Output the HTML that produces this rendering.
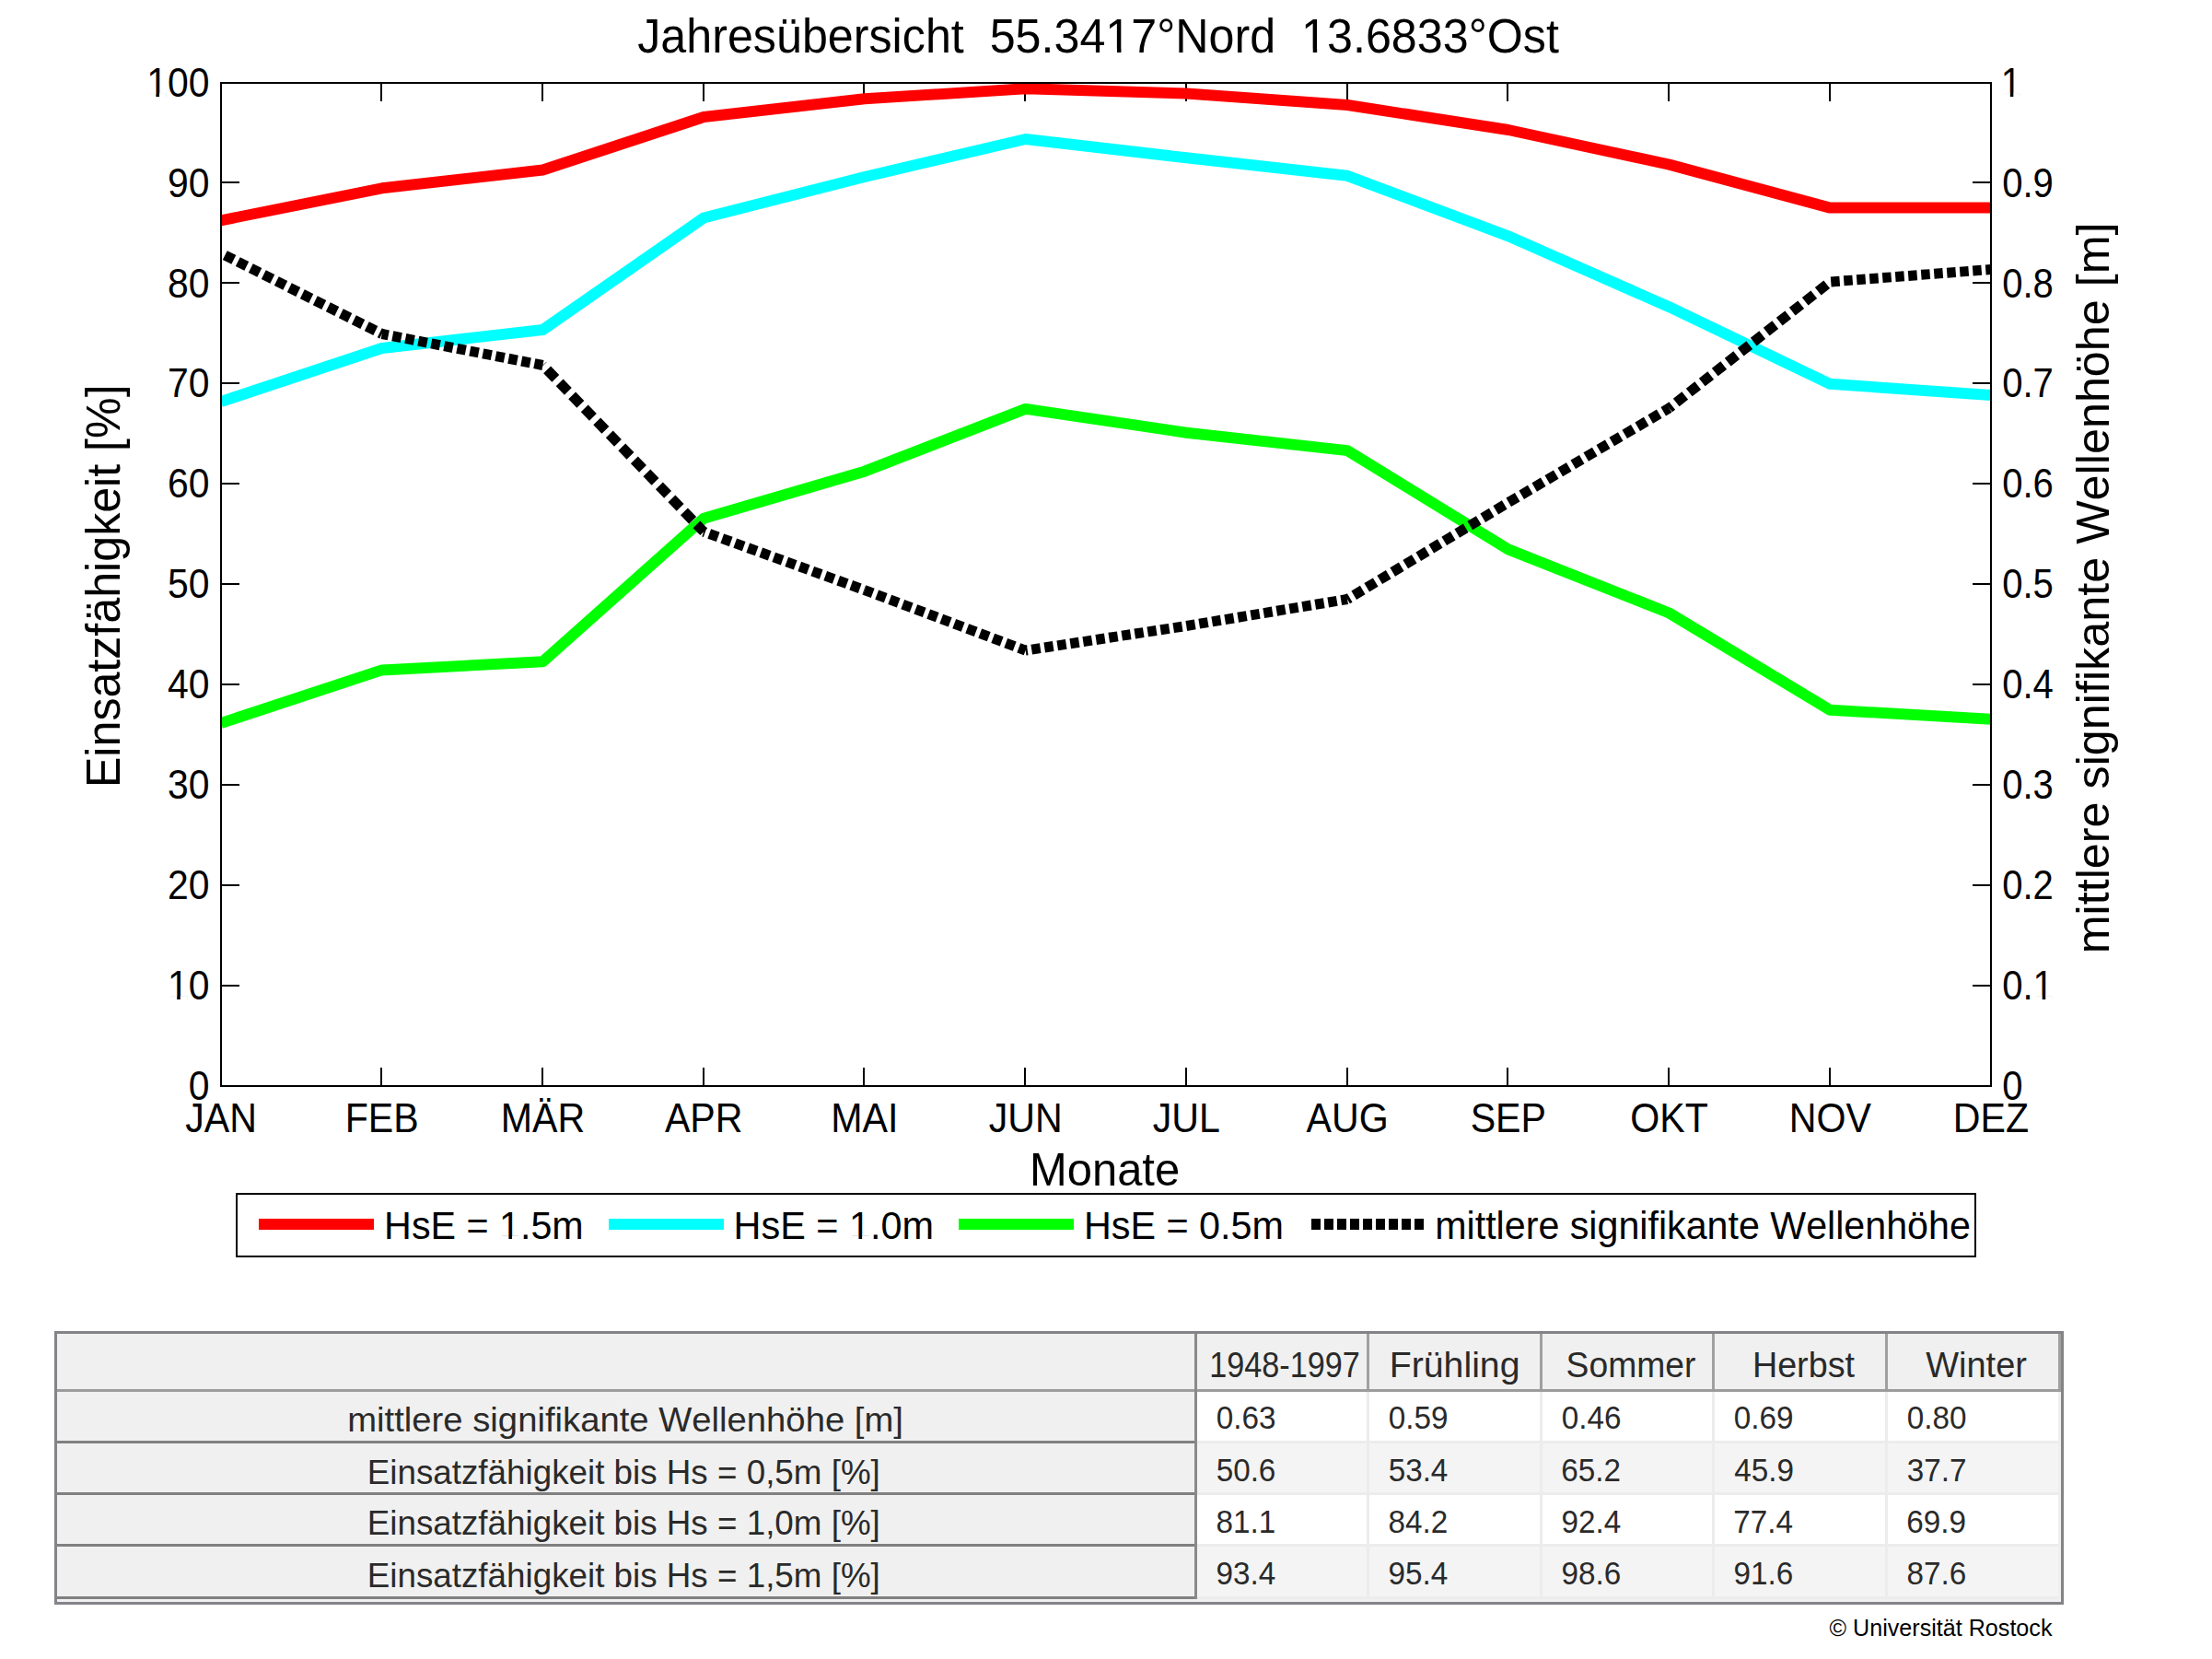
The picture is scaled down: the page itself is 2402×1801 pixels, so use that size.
<!DOCTYPE html>
<html><head><meta charset="utf-8"><title>Jahresübersicht</title>
<style>
html,body{margin:0;padding:0;background:#fff;}
body{width:2402px;height:1801px;position:relative;overflow:hidden;font-family:"Liberation Sans", sans-serif;font-kerning:none;}
svg text{font-kerning:none;}
</style></head><body>
<svg width="2402" height="1440" viewBox="0 0 2402 1440" style="position:absolute;left:0;top:0" font-family='"Liberation Sans", sans-serif'><defs><clipPath id="pc"><rect x="240" y="89" width="1922" height="1091"/></clipPath></defs><path d="M240,1070h20M2162,1070h-20M240,961h20M2162,961h-20M240,852h20M2162,852h-20M240,743h20M2162,743h-20M240,634h20M2162,634h-20M240,525h20M2162,525h-20M240,416h20M2162,416h-20M240,307h20M2162,307h-20M240,198h20M2162,198h-20M414,90v20M414,1179v-20M589,90v20M589,1179v-20M764,90v20M764,1179v-20M938,90v20M938,1179v-20M1113,90v20M1113,1179v-20M1288,90v20M1288,1179v-20M1463,90v20M1463,1179v-20M1637,90v20M1637,1179v-20M1812,90v20M1812,1179v-20M1987,90v20M1987,1179v-20" stroke="#000" stroke-width="2" fill="none"/><g clip-path="url(#pc)" fill="none" stroke-linejoin="round"><polyline points="240.00,239.30 414.73,204.30 589.45,184.50 764.18,127.00 938.91,107.30 1113.64,96.30 1288.36,101.50 1463.09,114.00 1637.82,141.00 1812.55,178.60 1987.27,225.60 2162.00,225.60" stroke="#ff0000" stroke-width="12"/><polyline points="240.00,436.00 414.73,378.00 589.45,358.00 764.18,236.50 938.91,192.00 1113.64,151.00 1288.36,171.30 1463.09,190.80 1637.82,256.30 1812.55,333.20 1987.27,416.80 2162.00,429.00" stroke="#00ffff" stroke-width="12"/><polyline points="240.00,785.00 414.73,727.40 589.45,718.30 764.18,562.80 938.91,511.70 1113.64,443.90 1288.36,469.70 1463.09,489.10 1637.82,596.30 1812.55,665.50 1987.27,770.80 2162.00,780.70" stroke="#00ff00" stroke-width="12"/><path d="M240.00,275.00L414.73,362.50" stroke="#000" stroke-width="11" stroke-dasharray="10.625 5.033" stroke-dashoffset="10.848"/><path d="M414.73,362.50L589.45,396.50" stroke="#000" stroke-width="11" stroke-dasharray="9.678 4.584" stroke-dashoffset="2.473"/><path d="M589.45,396.50L764.18,577.30" stroke="#000" stroke-width="11" stroke-dasharray="13.211 6.258" stroke-dashoffset="12.731"/><path d="M764.18,577.30L938.91,640.60" stroke="#000" stroke-width="11" stroke-dasharray="10.104 4.786" stroke-dashoffset="8.460"/><path d="M938.91,640.60L1113.64,706.10" stroke="#000" stroke-width="11" stroke-dasharray="10.146 4.806" stroke-dashoffset="0.728"/><path d="M1113.64,706.10L1288.36,679.50" stroke="#000" stroke-width="11" stroke-dasharray="9.609 4.552" stroke-dashoffset="7.494"/><path d="M1288.36,679.50L1463.09,650.50" stroke="#000" stroke-width="11" stroke-dasharray="9.630 4.562" stroke-dashoffset="0.138"/><path d="M1463.09,650.50L1637.82,545.60" stroke="#000" stroke-width="11" stroke-dasharray="11.081 5.249" stroke-dashoffset="8.006"/><path d="M1637.82,545.60L1812.55,443.00" stroke="#000" stroke-width="11" stroke-dasharray="11.017 5.218" stroke-dashoffset="15.761"/><path d="M1812.55,443.00L1987.27,306.00" stroke="#000" stroke-width="11" stroke-dasharray="12.072 5.718" stroke-dashoffset="8.029"/><path d="M1987.27,306.00L2162.00,292.50" stroke="#000" stroke-width="11" stroke-dasharray="9.528 4.513" stroke-dashoffset="13.084"/></g><rect x="240" y="90" width="1922" height="1089" fill="none" stroke="#000" stroke-width="2"/><text xml:space="preserve" x="204.64" y="1193.70" font-size="44" textLength="22.76" lengthAdjust="spacingAndGlyphs" fill="#000">0</text><text xml:space="preserve" x="2174.24" y="1193.70" font-size="44" textLength="22.27" lengthAdjust="spacingAndGlyphs" fill="#000">0</text><text xml:space="preserve" x="181.88" y="1084.80" font-size="44" textLength="45.52" lengthAdjust="spacingAndGlyphs" fill="#000">10</text><rect x="184.28" y="1081.21" width="7.89" height="4.49" fill="#fff"/><rect x="195.79" y="1081.21" width="7.57" height="4.49" fill="#fff"/><text xml:space="preserve" x="2174.24" y="1084.80" font-size="44" textLength="55.66" lengthAdjust="spacingAndGlyphs" fill="#000">0.1</text><rect x="2209.97" y="1081.21" width="7.72" height="4.49" fill="#fff"/><rect x="2221.24" y="1081.21" width="7.41" height="4.49" fill="#fff"/><text xml:space="preserve" x="181.88" y="975.90" font-size="44" textLength="45.52" lengthAdjust="spacingAndGlyphs" fill="#000">20</text><text xml:space="preserve" x="2174.24" y="975.90" font-size="44" textLength="55.66" lengthAdjust="spacingAndGlyphs" fill="#000">0.2</text><text xml:space="preserve" x="181.88" y="867.00" font-size="44" textLength="45.52" lengthAdjust="spacingAndGlyphs" fill="#000">30</text><text xml:space="preserve" x="2174.24" y="867.00" font-size="44" textLength="55.66" lengthAdjust="spacingAndGlyphs" fill="#000">0.3</text><text xml:space="preserve" x="181.88" y="758.10" font-size="44" textLength="45.52" lengthAdjust="spacingAndGlyphs" fill="#000">40</text><text xml:space="preserve" x="2174.24" y="758.10" font-size="44" textLength="55.66" lengthAdjust="spacingAndGlyphs" fill="#000">0.4</text><text xml:space="preserve" x="181.88" y="649.20" font-size="44" textLength="45.52" lengthAdjust="spacingAndGlyphs" fill="#000">50</text><text xml:space="preserve" x="2174.24" y="649.20" font-size="44" textLength="55.66" lengthAdjust="spacingAndGlyphs" fill="#000">0.5</text><text xml:space="preserve" x="181.88" y="540.30" font-size="44" textLength="45.52" lengthAdjust="spacingAndGlyphs" fill="#000">60</text><text xml:space="preserve" x="2174.24" y="540.30" font-size="44" textLength="55.66" lengthAdjust="spacingAndGlyphs" fill="#000">0.6</text><text xml:space="preserve" x="181.88" y="431.40" font-size="44" textLength="45.52" lengthAdjust="spacingAndGlyphs" fill="#000">70</text><text xml:space="preserve" x="2174.24" y="431.40" font-size="44" textLength="55.66" lengthAdjust="spacingAndGlyphs" fill="#000">0.7</text><text xml:space="preserve" x="181.88" y="322.50" font-size="44" textLength="45.52" lengthAdjust="spacingAndGlyphs" fill="#000">80</text><text xml:space="preserve" x="2174.24" y="322.50" font-size="44" textLength="55.66" lengthAdjust="spacingAndGlyphs" fill="#000">0.8</text><text xml:space="preserve" x="181.88" y="213.60" font-size="44" textLength="45.52" lengthAdjust="spacingAndGlyphs" fill="#000">90</text><text xml:space="preserve" x="2174.24" y="213.60" font-size="44" textLength="55.66" lengthAdjust="spacingAndGlyphs" fill="#000">0.9</text><text xml:space="preserve" x="159.13" y="104.70" font-size="44" textLength="68.27" lengthAdjust="spacingAndGlyphs" fill="#000">100</text><rect x="161.52" y="101.11" width="7.89" height="4.49" fill="#fff"/><rect x="173.03" y="101.11" width="7.57" height="4.49" fill="#fff"/><text xml:space="preserve" x="2172.75" y="104.70" font-size="44" textLength="22.27" lengthAdjust="spacingAndGlyphs" fill="#000">1</text><rect x="2175.10" y="101.11" width="7.72" height="4.49" fill="#fff"/><rect x="2186.36" y="101.11" width="7.41" height="4.49" fill="#fff"/><text xml:space="preserve" x="201.14" y="1229.00" font-size="44" textLength="77.72" lengthAdjust="spacingAndGlyphs" fill="#000">JAN</text><text xml:space="preserve" x="374.72" y="1229.00" font-size="44" textLength="80.01" lengthAdjust="spacingAndGlyphs" fill="#000">FEB</text><text xml:space="preserve" x="543.74" y="1229.00" font-size="44" textLength="91.42" lengthAdjust="spacingAndGlyphs" fill="#000">MÄR</text><text xml:space="preserve" x="721.89" y="1229.00" font-size="44" textLength="84.59" lengthAdjust="spacingAndGlyphs" fill="#000">APR</text><text xml:space="preserve" x="902.34" y="1229.00" font-size="44" textLength="73.14" lengthAdjust="spacingAndGlyphs" fill="#000">MAI</text><text xml:space="preserve" x="1073.64" y="1229.00" font-size="44" textLength="79.99" lengthAdjust="spacingAndGlyphs" fill="#000">JUN</text><text xml:space="preserve" x="1251.78" y="1229.00" font-size="44" textLength="73.16" lengthAdjust="spacingAndGlyphs" fill="#000">JUL</text><text xml:space="preserve" x="1418.52" y="1229.00" font-size="44" textLength="89.15" lengthAdjust="spacingAndGlyphs" fill="#000">AUG</text><text xml:space="preserve" x="1596.66" y="1229.00" font-size="44" textLength="82.32" lengthAdjust="spacingAndGlyphs" fill="#000">SEP</text><text xml:space="preserve" x="1770.26" y="1229.00" font-size="44" textLength="84.57" lengthAdjust="spacingAndGlyphs" fill="#000">OKT</text><text xml:space="preserve" x="1942.70" y="1229.00" font-size="44" textLength="89.15" lengthAdjust="spacingAndGlyphs" fill="#000">NOV</text><text xml:space="preserve" x="2120.86" y="1229.00" font-size="44" textLength="82.28" lengthAdjust="spacingAndGlyphs" fill="#000">DEZ</text><text xml:space="preserve" x="692.22" y="57.00" font-size="51" textLength="1000.65" lengthAdjust="spacingAndGlyphs" fill="#000">Jahresübersicht  55.3417°Nord  13.6833°Ost</text><rect x="1203.31" y="52.89" width="9.69" height="5.01" fill="#fff"/><rect x="1217.43" y="52.89" width="9.29" height="5.01" fill="#fff"/><rect x="1416.03" y="52.89" width="9.69" height="5.01" fill="#fff"/><rect x="1430.16" y="52.89" width="9.29" height="5.01" fill="#fff"/><text xml:space="preserve" x="1117.99" y="1286.50" font-size="50.5" textLength="163.19" lengthAdjust="spacingAndGlyphs" fill="#000">Monate</text><text xml:space="preserve" x="-4.11" y="0.00" font-size="51.5" textLength="437.69" lengthAdjust="spacingAndGlyphs" fill="#000" transform="translate(130,851) rotate(-90)">Einsatzfähigkeit [%]</text><text xml:space="preserve" x="-3.34" y="0.00" font-size="50.5" textLength="793.93" lengthAdjust="spacingAndGlyphs" fill="#000" transform="translate(2290,1032) rotate(-90)">mittlere signifikante Wellenhöhe [m]</text><rect x="257" y="1296" width="1888" height="68" fill="#fff" stroke="#000" stroke-width="2"/><path d="M281,1329H406" stroke="#ff0000" stroke-width="12"/><path d="M661,1329H786" stroke="#00ffff" stroke-width="12"/><path d="M1041,1329H1166" stroke="#00ff00" stroke-width="12"/><path d="M1424,1329H1546" stroke="#000" stroke-width="12" stroke-dasharray="10 4"/><text xml:space="preserve" x="417.12" y="1345.00" font-size="43" textLength="216.60" lengthAdjust="spacingAndGlyphs" fill="#000">HsE = 1.5m</text><rect x="544.45" y="1341.49" width="7.95" height="4.41" fill="#fff"/><rect x="556.05" y="1341.49" width="7.63" height="4.41" fill="#fff"/><text xml:space="preserve" x="796.60" y="1345.00" font-size="43" textLength="217.53" lengthAdjust="spacingAndGlyphs" fill="#000">HsE = 1.0m</text><rect x="924.48" y="1341.49" width="7.99" height="4.41" fill="#fff"/><rect x="936.13" y="1341.49" width="7.66" height="4.41" fill="#fff"/><text xml:space="preserve" x="1176.91" y="1345.00" font-size="43" textLength="217.01" lengthAdjust="spacingAndGlyphs" fill="#000">HsE = 0.5m</text><text xml:space="preserve" x="1558.26" y="1345.00" font-size="43" textLength="581.57" lengthAdjust="spacingAndGlyphs" fill="#000">mittlere signifikante Wellenhöhe</text></svg>
<div style="position:absolute;left:59px;top:1445px;width:2182px;height:297px;background:#838388;"></div><div style="position:absolute;left:62px;top:1448px;width:2176px;height:291px;background:#eef0f2;"></div><div style="position:absolute;left:62px;top:1448px;width:2176px;height:60px;background:#f0f0f0;"></div><div style="position:absolute;left:62px;top:1508px;width:2176px;height:3px;background:#9c9c9c;"></div><div style="position:absolute;left:62px;top:1511px;width:1235px;height:222px;background:#f0f0f0;"></div><div style="position:absolute;left:1297px;top:1448px;width:3px;height:288px;background:#8a8a8a;"></div><div style="position:absolute;left:62px;top:1564px;width:1235px;height:3px;background:#808080;"></div><div style="position:absolute;left:62px;top:1620px;width:1235px;height:3px;background:#808080;"></div><div style="position:absolute;left:62px;top:1676px;width:1235px;height:3px;background:#808080;"></div><div style="position:absolute;left:62px;top:1733px;width:1235px;height:3px;background:#808080;"></div><div style="position:absolute;left:1300px;top:1511px;width:935px;height:225px;background:#ececec;"></div><div style="position:absolute;left:1300px;top:1511px;width:184px;height:53px;background:#ffffff;"></div><div style="position:absolute;left:1487px;top:1511px;width:185px;height:53px;background:#ffffff;"></div><div style="position:absolute;left:1675px;top:1511px;width:184px;height:53px;background:#ffffff;"></div><div style="position:absolute;left:1862px;top:1511px;width:185px;height:53px;background:#ffffff;"></div><div style="position:absolute;left:2050px;top:1511px;width:185px;height:53px;background:#ffffff;"></div><div style="position:absolute;left:1300px;top:1567px;width:184px;height:53px;background:#f4f4f4;"></div><div style="position:absolute;left:1487px;top:1567px;width:185px;height:53px;background:#f4f4f4;"></div><div style="position:absolute;left:1675px;top:1567px;width:184px;height:53px;background:#f4f4f4;"></div><div style="position:absolute;left:1862px;top:1567px;width:185px;height:53px;background:#f4f4f4;"></div><div style="position:absolute;left:2050px;top:1567px;width:185px;height:53px;background:#f4f4f4;"></div><div style="position:absolute;left:1300px;top:1623px;width:184px;height:53px;background:#ffffff;"></div><div style="position:absolute;left:1487px;top:1623px;width:185px;height:53px;background:#ffffff;"></div><div style="position:absolute;left:1675px;top:1623px;width:184px;height:53px;background:#ffffff;"></div><div style="position:absolute;left:1862px;top:1623px;width:185px;height:53px;background:#ffffff;"></div><div style="position:absolute;left:2050px;top:1623px;width:185px;height:53px;background:#ffffff;"></div><div style="position:absolute;left:1300px;top:1679px;width:184px;height:54px;background:#f4f4f4;"></div><div style="position:absolute;left:1487px;top:1679px;width:185px;height:54px;background:#f4f4f4;"></div><div style="position:absolute;left:1675px;top:1679px;width:184px;height:54px;background:#f4f4f4;"></div><div style="position:absolute;left:1862px;top:1679px;width:185px;height:54px;background:#f4f4f4;"></div><div style="position:absolute;left:2050px;top:1679px;width:185px;height:54px;background:#f4f4f4;"></div><div style="position:absolute;left:1484px;top:1448px;width:3px;height:60px;background:#a0a0a0;"></div><div style="position:absolute;left:1672px;top:1448px;width:3px;height:60px;background:#a0a0a0;"></div><div style="position:absolute;left:1859px;top:1448px;width:3px;height:60px;background:#a0a0a0;"></div><div style="position:absolute;left:2047px;top:1448px;width:3px;height:60px;background:#a0a0a0;"></div><div style="position:absolute;left:2235px;top:1448px;width:3px;height:60px;background:#a0a0a0;"></div><div style="position:absolute;left:2235px;top:1511px;width:3px;height:225px;background:#efefef;"></div>
<svg width="2402" height="1801" viewBox="0 0 2402 1801" style="position:absolute;left:0;top:0" font-family='"Liberation Sans", sans-serif'><text xml:space="preserve" x="1313.20" y="1495.00" font-size="39" textLength="163.52" lengthAdjust="spacingAndGlyphs" fill="#2a2a2a">1948-1997</text><text xml:space="preserve" x="1508.78" y="1495.00" font-size="39" textLength="141.75" lengthAdjust="spacingAndGlyphs" fill="#2a2a2a">Frühling</text><text xml:space="preserve" x="1700.61" y="1495.00" font-size="39" textLength="140.81" lengthAdjust="spacingAndGlyphs" fill="#2a2a2a">Sommer</text><text xml:space="preserve" x="1902.91" y="1495.00" font-size="39" textLength="111.07" lengthAdjust="spacingAndGlyphs" fill="#2a2a2a">Herbst</text><text xml:space="preserve" x="2091.23" y="1495.00" font-size="39" textLength="109.70" lengthAdjust="spacingAndGlyphs" fill="#2a2a2a">Winter</text><text xml:space="preserve" x="377.26" y="1554.30" font-size="37" textLength="603.67" lengthAdjust="spacingAndGlyphs" fill="#2a2a2a">mittlere signifikante Wellenhöhe [m]</text><text xml:space="preserve" x="1320.70" y="1550.50" font-size="35" textLength="64.71" lengthAdjust="spacingAndGlyphs" fill="#2a2a2a">0.63</text><text xml:space="preserve" x="1507.70" y="1550.50" font-size="35" textLength="64.71" lengthAdjust="spacingAndGlyphs" fill="#2a2a2a">0.59</text><text xml:space="preserve" x="1695.70" y="1550.50" font-size="35" textLength="64.71" lengthAdjust="spacingAndGlyphs" fill="#2a2a2a">0.46</text><text xml:space="preserve" x="1882.70" y="1550.50" font-size="35" textLength="64.71" lengthAdjust="spacingAndGlyphs" fill="#2a2a2a">0.69</text><text xml:space="preserve" x="2070.70" y="1550.50" font-size="35" textLength="64.71" lengthAdjust="spacingAndGlyphs" fill="#2a2a2a">0.80</text><text xml:space="preserve" x="398.78" y="1610.70" font-size="37" textLength="557.04" lengthAdjust="spacingAndGlyphs" fill="#2a2a2a">Einsatzfähigkeit bis Hs = 0,5m [%]</text><text xml:space="preserve" x="1320.67" y="1607.50" font-size="35" textLength="64.71" lengthAdjust="spacingAndGlyphs" fill="#2a2a2a">50.6</text><text xml:space="preserve" x="1507.67" y="1607.50" font-size="35" textLength="64.71" lengthAdjust="spacingAndGlyphs" fill="#2a2a2a">53.4</text><text xml:space="preserve" x="1695.31" y="1607.50" font-size="35" textLength="64.71" lengthAdjust="spacingAndGlyphs" fill="#2a2a2a">65.2</text><text xml:space="preserve" x="1883.24" y="1607.50" font-size="35" textLength="64.71" lengthAdjust="spacingAndGlyphs" fill="#2a2a2a">45.9</text><text xml:space="preserve" x="2070.73" y="1607.50" font-size="35" textLength="64.71" lengthAdjust="spacingAndGlyphs" fill="#2a2a2a">37.7</text><text xml:space="preserve" x="398.78" y="1666.40" font-size="37" textLength="557.04" lengthAdjust="spacingAndGlyphs" fill="#2a2a2a">Einsatzfähigkeit bis Hs = 1,0m [%]</text><text xml:space="preserve" x="1320.56" y="1663.50" font-size="35" textLength="64.71" lengthAdjust="spacingAndGlyphs" fill="#2a2a2a">81.1</text><text xml:space="preserve" x="1507.56" y="1663.50" font-size="35" textLength="64.71" lengthAdjust="spacingAndGlyphs" fill="#2a2a2a">84.2</text><text xml:space="preserve" x="1695.44" y="1663.50" font-size="35" textLength="64.71" lengthAdjust="spacingAndGlyphs" fill="#2a2a2a">92.4</text><text xml:space="preserve" x="1882.30" y="1663.50" font-size="35" textLength="64.71" lengthAdjust="spacingAndGlyphs" fill="#2a2a2a">77.4</text><text xml:space="preserve" x="2070.31" y="1663.50" font-size="35" textLength="64.71" lengthAdjust="spacingAndGlyphs" fill="#2a2a2a">69.9</text><text xml:space="preserve" x="398.78" y="1722.60" font-size="37" textLength="557.04" lengthAdjust="spacingAndGlyphs" fill="#2a2a2a">Einsatzfähigkeit bis Hs = 1,5m [%]</text><text xml:space="preserve" x="1320.44" y="1720.00" font-size="35" textLength="64.71" lengthAdjust="spacingAndGlyphs" fill="#2a2a2a">93.4</text><text xml:space="preserve" x="1507.44" y="1720.00" font-size="35" textLength="64.71" lengthAdjust="spacingAndGlyphs" fill="#2a2a2a">95.4</text><text xml:space="preserve" x="1695.44" y="1720.00" font-size="35" textLength="64.71" lengthAdjust="spacingAndGlyphs" fill="#2a2a2a">98.6</text><text xml:space="preserve" x="1882.44" y="1720.00" font-size="35" textLength="64.71" lengthAdjust="spacingAndGlyphs" fill="#2a2a2a">91.6</text><text xml:space="preserve" x="2070.56" y="1720.00" font-size="35" textLength="64.71" lengthAdjust="spacingAndGlyphs" fill="#2a2a2a">87.6</text><text xml:space="preserve" x="1986.62" y="1776.00" font-size="26" textLength="241.84" lengthAdjust="spacingAndGlyphs" fill="#000">© Universität Rostock</text></svg>
</body></html>
